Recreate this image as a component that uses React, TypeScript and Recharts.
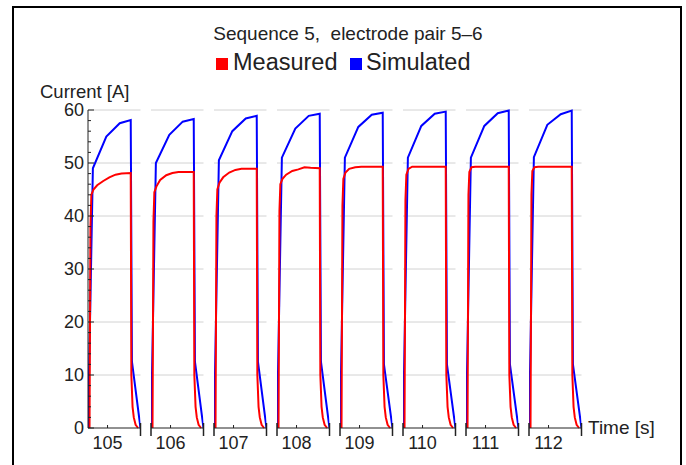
import { LineChart, Line, XAxis, YAxis, CartesianGrid } from "recharts"

// one pulse per second, each drawn in its own broken-axis panel
const PULSE_TICKS = [105, 106, 107, 108, 109, 110, 111, 112]
const Y_TICKS = [0, 2, 4, 6, 8, 10, 12, 14, 16, 18, 20, 22, 24, 26, 28, 30, 32, 34, 36, 38, 40, 42, 44, 46, 48, 50, 52, 54, 56, 58, 60]
const GRID_VALUES = [10, 20, 30, 40, 50, 60]

// seconds after the start of each panel
const BLUE_TIMES = [0, 0.08, 0.3, 0.52, 0.7, 0.72, 0.86]
const BLUE_VALUES = [
    [0, 49, 55, 57.5, 58.1, 12.5, 0],
    [0, 50, 55.3, 57.8, 58.3, 12.5, 0],
    [0, 50.5, 56, 58.4, 58.9, 12.5, 0],
    [0, 51, 56.5, 58.9, 59.3, 12.5, 0],
    [0, 51, 56.8, 59.1, 59.5, 12, 0],
    [0, 51, 57, 59.3, 59.7, 12, 0],
    [0, 51, 57, 59.4, 59.9, 12, 0],
    [0, 51.1, 57.2, 59.2, 59.9, 12, 0],
]

const RED_TIMES = [0.025, 0.04, 0.055, 0.09, 0.15, 0.25, 0.35, 0.45, 0.55, 0.7, 0.71, 0.73, 0.75, 0.78, 0.82]
const RED_VALUES = [
    [0, 38, 44, 45, 45.8, 46.6, 47.3, 47.8, 48, 48.1, 10, 4, 2, 0.6, 0],
    [0, 39, 44.5, 45.6, 46.8, 47.7, 48.1, 48.3, 48.3, 48.3, 10, 4, 2, 0.6, 0],
    [0, 40, 45, 46.3, 47.3, 48.2, 48.7, 48.9, 48.9, 48.9, 10, 4, 2, 0.6, 0],
    [0, 41, 46, 47, 47.8, 48.5, 48.8, 49.2, 49.1, 49, 10, 4, 2, 0.6, 0],
    [0, 42, 47, 48.2, 48.9, 49.2, 49.3, 49.3, 49.3, 49.3, 10, 4, 2, 0.6, 0],
    [0, 43, 47.8, 48.9, 49.3, 49.3, 49.3, 49.3, 49.3, 49.3, 10, 4, 2, 0.6, 0],
    [0, 44, 48.3, 49.2, 49.3, 49.3, 49.3, 49.3, 49.3, 49.3, 10, 4, 2, 0.6, 0],
    [0, 44, 48.5, 49.2, 49.3, 49.3, 49.3, 49.3, 49.3, 49.3, 10, 4, 2, 0.6, 0],
]

const LEAD = 0.32
const SPAN = 0.86
const PANEL_LEFT = 87.5
const PANEL_STEP = 63
const PANEL_W = 52.5
const PAD = 6
const Y_W = 46

const FONT = "'Liberation Sans', Arial, sans-serif"
const RED = "#ff0000"
const BLUE = "#0000ff"
const INK = "#222"

function YTick({ x, y, payload }: any) {
    const v = payload.value
    const major = v % 10 === 0
    return (
        <g>
            <line x1={x} x2={x + (major ? 6 : 3)} y1={y} y2={y} stroke={INK} strokeWidth={1} />
            {major && (
                <text x={x - 4} y={y} dy="0.36em" textAnchor="end" fontSize={18} fill={INK} fontFamily={FONT}>
                    {v}
                </text>
            )}
        </g>
    )
}

function makeXTick(mark: number, start: number, first: boolean) {
    return ({ x, y, payload }: any) => {
        const v = payload.value
        if (Math.abs(v - mark) < 1e-6) {
            return (
                <g>
                    <line x1={x} x2={x} y1={y} y2={y - 3} stroke={INK} />
                    <text x={x} y={y + 21} textAnchor="middle" fontSize={18} fill={INK} fontFamily={FONT}>
                        {v}
                    </text>
                </g>
            )
        }
        if (first && Math.abs(v - start) < 1e-6) return <g />
        return <line x1={x} x2={x} y1={y - 5} y2={y + 8} stroke={INK} strokeWidth={1.5} />
    }
}

function Panel({ i }: { i: number }) {
    const first = i === 0
    const start = PULSE_TICKS[i] - LEAD
    const end = start + SPAN
    const blue = BLUE_TIMES.map((t, k) => ({ t: start + t, v: BLUE_VALUES[i][k] }))
    const red = RED_TIMES.map((t, k) => ({ t: start + t, v: RED_VALUES[i][k] }))
    const yw = first ? Y_W : 0
    return (
        <div style={{ position: "absolute", left: PANEL_LEFT + i * PANEL_STEP - PAD - yw, top: 100 }}>
            <LineChart
                width={yw + PAD + PANEL_W + PAD}
                height={358}
                margin={{ top: 10, right: PAD, bottom: 0, left: PAD }}
            >
                <CartesianGrid horizontal vertical={false} horizontalValues={GRID_VALUES} stroke="#d2d2d2" />
                <XAxis
                    type="number"
                    dataKey="t"
                    domain={[start, end]}
                    ticks={[start, PULSE_TICKS[i], end]}
                    interval={0}
                    allowDataOverflow
                    height={30}
                    tickSize={0}
                    tickMargin={0}
                    tickLine={false}
                    axisLine={{ stroke: INK }}
                    tick={makeXTick(PULSE_TICKS[i], start, first)}
                />
                <YAxis
                    type="number"
                    domain={[0, 60]}
                    ticks={Y_TICKS}
                    interval={0}
                    hide={!first}
                    width={yw}
                    tickSize={0}
                    tickMargin={0}
                    tickLine={false}
                    axisLine={{ stroke: INK }}
                    tick={<YTick />}
                />
                <Line data={blue} dataKey="v" type="linear" stroke={BLUE} strokeWidth={2} dot={false} isAnimationActive={false} />
                <Line data={red} dataKey="v" type="linear" stroke={RED} strokeWidth={2} dot={false} isAnimationActive={false} />
            </LineChart>
        </div>
    )
}

export default function App() {
    return (
        <div
            style={{
                position: "absolute",
                left: 0,
                top: 0,
                width: 686,
                height: 465,
                overflow: "hidden",
                background: "#fff",
                fontFamily: FONT,
                color: INK,
            }}
        >
            <div
                style={{
                    position: "absolute",
                    left: 12,
                    top: 6,
                    width: 666,
                    height: 480,
                    border: "2px solid #000",
                }}
            />
            <div style={{ position: "absolute", left: 0, width: 696, top: 23, textAlign: "center", fontSize: 19, whiteSpace: "pre" }}>
                {"Sequence 5,  electrode pair 5–6"}
            </div>
            <div style={{ position: "absolute", left: 216, top: 58, width: 12, height: 12, background: RED }} />
            <div style={{ position: "absolute", left: 233, top: 49, fontSize: 23.5, whiteSpace: "pre" }}>Measured</div>
            <div style={{ position: "absolute", left: 350, top: 58, width: 12, height: 12, background: BLUE }} />
            <div style={{ position: "absolute", left: 366, top: 49, fontSize: 23.5, whiteSpace: "pre" }}>Simulated</div>
            <div style={{ position: "absolute", left: 40, top: 81, fontSize: 18.5, whiteSpace: "pre" }}>Current [A]</div>
            <div style={{ position: "absolute", left: 588, top: 417, fontSize: 19, whiteSpace: "pre" }}>Time [s]</div>
            {PULSE_TICKS.map((_, i) => (
                <Panel key={i} i={i} />
            ))}
        </div>
    )
}
